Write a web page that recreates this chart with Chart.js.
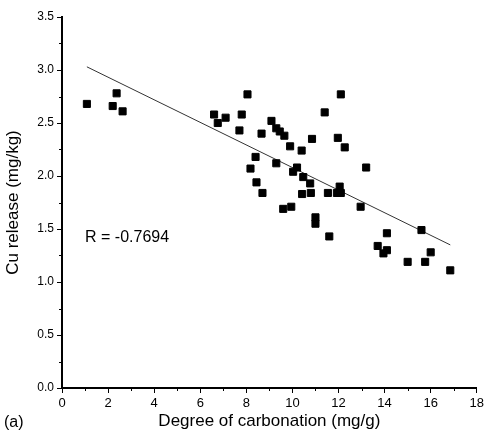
<!DOCTYPE html>
<html>
<head>
<meta charset="utf-8">
<script src="https://cdn.jsdelivr.net/npm/chart.js@4.4.1/dist/chart.umd.min.js"></script>
<style>
  html, body { margin: 0; padding: 0; background: #fff; }
  #wrap { width: 487px; height: 444px; }
</style>
</head>
<body>
<div id="wrap"><canvas id="cuChart" width="487" height="444"></canvas></div>
<script>
// measured points: degree of carbonation (mg/g) vs Cu release (mg/kg)
var carbonation = [1.08, 2.2, 2.37, 2.63, 6.6, 6.76, 7.1, 7.7, 7.8, 8.05,
  8.18, 8.4, 8.44, 8.7, 8.66, 9.09, 9.3, 9.45, 9.65, 9.3,
  9.6, 9.95, 9.9, 10.03, 10.2, 10.4, 10.42, 10.47, 10.77, 10.8,
  10.85, 11.0, 11.0, 11.4, 11.6, 11.54, 11.93, 12.05, 12.1, 11.97,
  12.1, 12.27, 12.96, 13.2, 13.7, 13.95, 14.1, 14.1, 15.0, 15.6,
  15.76, 16.0, 16.85];
var cuRelease = [2.68, 2.66, 2.78, 2.61, 2.58, 2.50, 2.55, 2.43, 2.58, 2.77,
  2.07, 2.18, 1.94, 1.84, 2.40, 2.52, 2.45, 2.42, 2.38, 2.12,
  1.69, 1.71, 2.28, 2.04, 2.08, 2.24, 1.83, 1.99, 1.93, 1.84,
  2.35, 1.61, 1.55, 2.60, 1.43, 1.84, 1.84, 1.90, 1.84, 2.36,
  2.77, 2.27, 1.71, 2.08, 1.34, 1.27, 1.30, 1.46, 1.19, 1.49,
  1.19, 1.28, 1.11];

// linear fit end points
var fitX = [1.08, 16.85];
var fitY = [3.03, 1.35];

var xTicks = [0, 2, 4, 6, 8, 10, 12, 14, 16, 18];
var yTicks = [0, 0.5, 1.0, 1.5, 2.0, 2.5, 3.0, 3.5];
var rLabel = 'R = -0.7694';
var panelLabel = '(a)';

var points = carbonation.map(function (x, i) { return { x: x, y: cuRelease[i] }; });
var fitLine = fitX.map(function (x, i) { return { x: x, y: fitY[i] }; });

// minor ticks, R text and panel label
var extras = {
  id: 'extras',
  afterDraw: function (chart) {
    var ctx = chart.ctx;
    var xs = chart.scales.x, ys = chart.scales.y;
    var area = chart.chartArea;
    ctx.save();
    ctx.strokeStyle = '#000';
    ctx.lineWidth = 1;
    ctx.beginPath();
    for (var i = 0; i < xTicks.length - 1; i++) {
      var px = Math.round(xs.getPixelForValue((xTicks[i] + xTicks[i + 1]) / 2)) + 0.5;
      ctx.moveTo(px, area.bottom);
      ctx.lineTo(px, area.bottom + 3);
    }
    for (var j = 0; j < yTicks.length - 1; j++) {
      var py = Math.round(ys.getPixelForValue((yTicks[j] + yTicks[j + 1]) / 2)) + 0.5;
      ctx.moveTo(area.left, py);
      ctx.lineTo(area.left - 3, py);
    }
    ctx.stroke();

    ctx.fillStyle = '#000';
    ctx.font = '16px "Liberation Sans", Arial, sans-serif';
    ctx.textBaseline = 'middle';
    ctx.textAlign = 'left';
    ctx.fillText(rLabel, xs.getPixelForValue(1.0), ys.getPixelForValue(1.42));
    ctx.fillText(panelLabel, 4, 423);
    ctx.restore();
  }
};

new Chart(document.getElementById('cuChart'), {
  type: 'scatter',
  data: {
    datasets: [{
      label: 'Cu release',
      data: points,
      pointStyle: 'rect',
      pointRadius: 5,
      pointHoverRadius: 5,
      backgroundColor: '#000',
      borderColor: '#000',
      borderWidth: 1
    }, {
      type: 'line',
      label: 'fit',
      data: fitLine,
      borderColor: '#333',
      borderWidth: 1,
      pointRadius: 0,
      fill: false
    }]
  },
  options: {
    responsive: false,
    animation: false,
    layout: { padding: { top: 17, right: 7, bottom: 0, left: 0 } },
    plugins: { legend: { display: false }, tooltip: { enabled: false } },
    scales: {
      x: {
        type: 'linear',
        min: 0,
        max: 18,
        afterFit: function (s) { s.height = 56; },
        afterBuildTicks: function (s) { s.ticks = xTicks.map(function (v) { return { value: v }; }); },
        border: { display: true, color: '#000', width: 2 },
        grid: { display: true, drawOnChartArea: false, drawTicks: true, tickLength: 5, color: '#000', lineWidth: 1 },
        ticks: { color: '#000', padding: 3, maxRotation: 0, font: { family: '"Liberation Sans", Arial, sans-serif', size: 13 } },
        title: {
          display: true,
          text: 'Degree of carbonation (mg/g)',
          color: '#000',
          padding: { top: 0, bottom: 12 },
          font: { family: '"Liberation Sans", Arial, sans-serif', size: 17, lineHeight: 1.2 }
        }
      },
      y: {
        type: 'linear',
        min: 0,
        max: 3.5,
        afterFit: function (s) { s.width = 62; },
        afterBuildTicks: function (s) { s.ticks = yTicks.map(function (v) { return { value: v }; }); },
        border: { display: true, color: '#000', width: 2 },
        grid: { display: true, drawOnChartArea: false, drawTicks: true, tickLength: 5, color: '#000', lineWidth: 1 },
        ticks: {
          color: '#000',
          padding: 3,
          font: { family: '"Liberation Sans", Arial, sans-serif', size: 12 },
          callback: function (v) { return Number(v).toFixed(1); }
        },
        title: {
          display: true,
          text: 'Cu release (mg/kg)',
          color: '#000',
          padding: { top: 3, bottom: 0 },
          font: { family: '"Liberation Sans", Arial, sans-serif', size: 17, lineHeight: 1.2 }
        }
      }
    }
  },
  plugins: [extras]
});
</script>
</body>
</html>
